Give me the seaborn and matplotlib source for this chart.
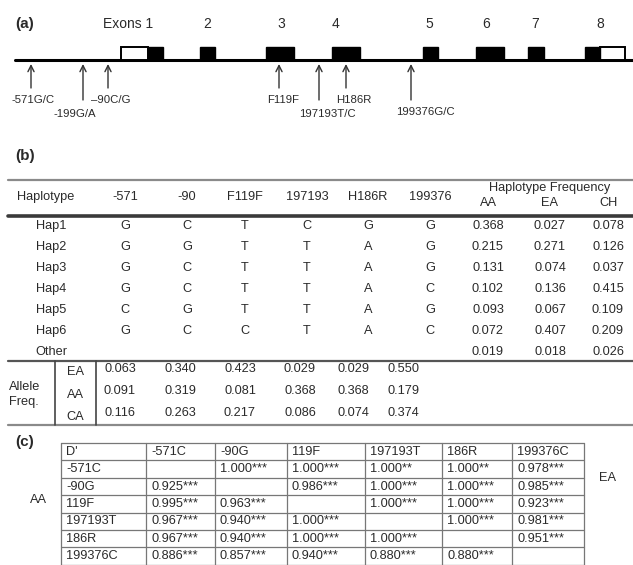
import matplotlib
matplotlib.use("Agg")
import matplotlib.pyplot as plt
from matplotlib.patches import Rectangle
import seaborn as sns

# ---------------- data ----------------
exon_labels = ["Exons 1", "2", "3", "4", "5", "6", "7", "8"]
# exon coding (black) blocks and UTR (white) blocks along the gene (diagram units)
exon_black_start = [148, 200, 266, 332, 423, 476, 528, 585]
exon_black_end = [163, 215, 294, 360, 438, 504, 544, 600]
utr_start = [121, 600]
utr_end = [148, 625]
snp_labels = ["-571G/C", "-199G/A", "\u201390C/G", "F119F", "197193T/C", "H186R", "199376G/C"]
snp_pos = [31, 83, 108, 279, 319, 346, 411]

hap_snps = ["-571", "-90", "F119F", "197193", "H186R", "199376"]
hap_names = ["Hap1", "Hap2", "Hap3", "Hap4", "Hap5", "Hap6", "Other"]
hap_alleles = [
    ["G", "C", "T", "C", "G", "G"],
    ["G", "G", "T", "T", "A", "G"],
    ["G", "C", "T", "T", "A", "G"],
    ["G", "C", "T", "T", "A", "C"],
    ["C", "G", "T", "T", "A", "G"],
    ["G", "C", "C", "T", "A", "C"],
    ["", "", "", "", "", ""],
]
freq_groups = ["AA", "EA", "CH"]
freq_AA = [0.368, 0.215, 0.131, 0.102, 0.093, 0.072, 0.019]
freq_EA = [0.027, 0.271, 0.074, 0.136, 0.067, 0.407, 0.018]
freq_CH = [0.078, 0.126, 0.037, 0.415, 0.109, 0.209, 0.026]

allele_groups = ["EA", "AA", "CA"]
allele_EA = [0.063, 0.340, 0.423, 0.029, 0.029, 0.550]
allele_AA = [0.091, 0.319, 0.081, 0.368, 0.368, 0.179]
allele_CA = [0.116, 0.263, 0.217, 0.086, 0.074, 0.374]

ld_markers = ["-571C", "-90G", "119F", "197193T", "186R", "199376C"]
ld_cells = [
    ["", "1.000***", "1.000***", "1.000**", "1.000**", "0.978***"],
    ["0.925***", "", "0.986***", "1.000***", "1.000***", "0.985***"],
    ["0.995***", "0.963***", "", "1.000***", "1.000***", "0.923***"],
    ["0.967***", "0.940***", "1.000***", "", "1.000***", "0.981***"],
    ["0.967***", "0.940***", "1.000***", "1.000***", "", "0.951***"],
    ["0.886***", "0.857***", "0.940***", "0.880***", "0.880***", ""],
]

# ---------------- style ----------------
sns.set_theme(style="white")
plt.rcParams["font.family"] = ["Liberation Sans", "DejaVu Sans"]
TXT = "#2a2a2a"

fig = plt.figure(figsize=(6.33, 5.65), dpi=100)
ax = fig.add_axes([0, 0, 1, 1])
ax.set_xlim(0, 633)
ax.set_ylim(565, 0)
ax.axis("off")

def t(x, y, s, size=9.2, ha="center", va="center", **kw):
    ax.text(x, y, s, fontsize=size, ha=ha, va=va, color=TXT, **kw)

# ---------------- (a) gene diagram ----------------
t(15, 24, "(a)", size=11, ha="left", fontweight="bold")
exon_label_x = [128, 207, 281, 336, 429, 486, 535, 600]
for lab, x in zip(exon_labels, exon_label_x):
    t(x, 24, lab, size=10)

sns.lineplot(x=[15, 633], y=[60, 60], ax=ax, color="black", lw=2.2)
for s, e in zip(utr_start, utr_end):
    ax.add_patch(Rectangle((s, 47), e - s, 13, facecolor="white", edgecolor="black", lw=1.4, zorder=3))
for s, e in zip(exon_black_start, exon_black_end):
    ax.add_patch(Rectangle((s, 47), e - s, 13, facecolor="black", edgecolor="black", lw=1.0, zorder=4))

tail_y = [88, 100, 88, 88, 100, 88, 100]
lab_y = [100, 114, 100, 100, 114, 100, 112]
lab_dx = [2, -8, 3, 4, 8, 8, 14]
for lab, x, ty, ly, dx in zip(snp_labels, snp_pos, tail_y, lab_y, lab_dx):
    ax.annotate("", xy=(x, 64), xytext=(x, ty),
                arrowprops=dict(arrowstyle="->", lw=1.0, color="#333333", mutation_scale=11,
                                shrinkA=0, shrinkB=0))
    t(x + dx, ly, lab, size=8.2)

# ---------------- (b) haplotype table ----------------
t(15, 156, "(b)", size=11, ha="left", fontweight="bold")
ax.plot([8, 633], [180, 180], color="#8a8a8a", lw=1.6)
ax.plot([8, 633], [216, 216], color="#3a3a3a", lw=2.6)
ax.plot([8, 633], [361, 361], color="#555555", lw=1.6)
ax.plot([8, 633], [425, 425], color="#8a8a8a", lw=1.6)
ax.plot([55, 55], [361, 425], color="#444444", lw=1.2)
ax.plot([96, 96], [361, 425], color="#444444", lw=1.2)

snp_col_x = [125, 187, 245, 307, 368, 430]
freq_col_x = [488, 550, 608]
t(46, 197, "Haplotype")
for s, x in zip(hap_snps, snp_col_x):
    t(x, 197, s)
t(550, 188, "Haplotype Frequency")
for g, x in zip(freq_groups, freq_col_x):
    t(x, 203, g)

row_y = [226, 247, 268, 289, 310, 331, 352]
freqs = list(zip(freq_AA, freq_EA, freq_CH))
for name, alle, fr, y in zip(hap_names, hap_alleles, freqs, row_y):
    t(51, y, name)
    for a, x in zip(alle, snp_col_x):
        if a:
            t(x, y, a)
    for v, x in zip(fr, freq_col_x):
        t(x, y, f"{v:.3f}")

t(9, 387, "Allele", ha="left")
t(9, 402, "Freq.", ha="left")
allele_x = [120, 180, 240, 300, 353, 403]
for g, vals, ly, vy in zip(allele_groups, [allele_EA, allele_AA, allele_CA],
                           [372, 395, 417], [369, 391, 413]):
    t(75, ly, g)
    for v, x in zip(vals, allele_x):
        t(x, vy, f"{v:.3f}")

# ---------------- (c) LD table ----------------
t(15, 442, "(c)", size=11, ha="left", fontweight="bold")
col_lines = [61, 146, 215, 287, 365, 442, 512, 584]
top = 443
rh = 17.4
nrows = len(ld_markers) + 1
for x in col_lines:
    ax.plot([x, x], [top, top + nrows * rh], color="#777777", lw=0.9)
for i in range(nrows + 1):
    ax.plot([col_lines[0], col_lines[-1]], [top + i * rh, top + i * rh], color="#777777", lw=0.9)

header = ["D'"] + ld_markers
for j, h in enumerate(header):
    t(col_lines[j] + 5, top + rh / 2, h, ha="left")
for i, (m, row) in enumerate(zip(ld_markers, ld_cells)):
    yc = top + (i + 1.5) * rh
    t(col_lines[0] + 5, yc, m, ha="left")
    for j, c in enumerate(row):
        if c:
            t(col_lines[j + 1] + 5, yc, c, ha="left")

t(38, 500, "AA")
t(607, 478, "EA")

fig.savefig("out.png", dpi=100)
